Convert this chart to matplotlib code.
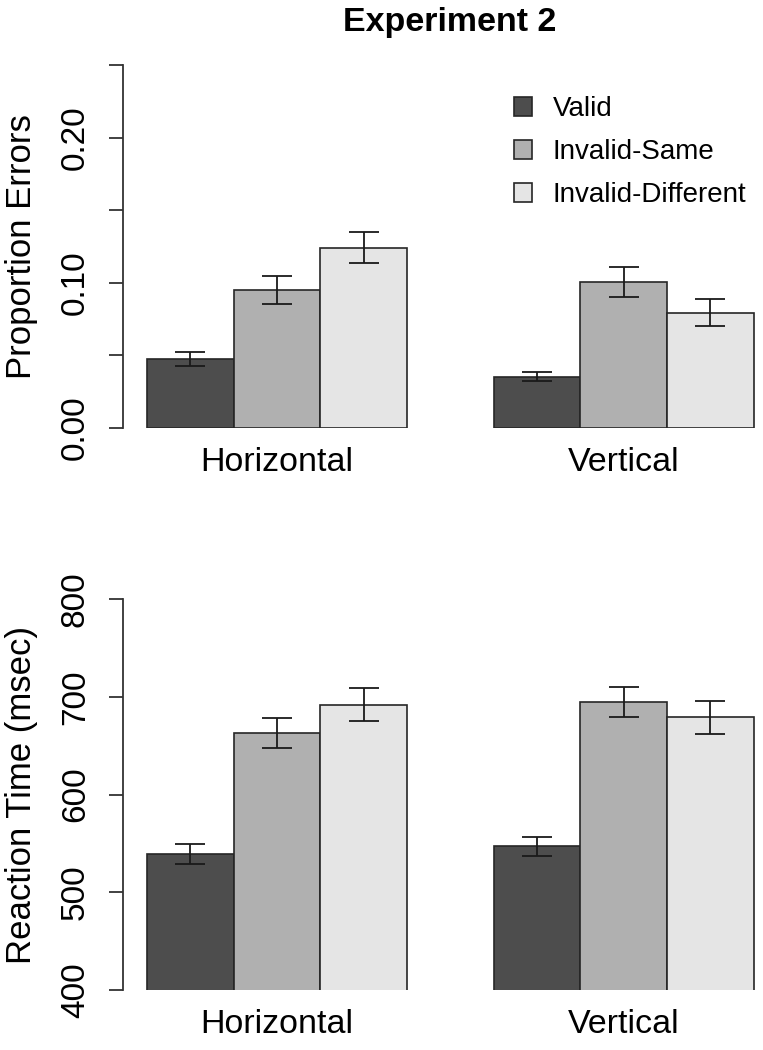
import numpy as np
import matplotlib
matplotlib.use("Agg")
import matplotlib.pyplot as plt
from matplotlib.patches import Patch

plt.rcParams['font.family'] = ['Liberation Sans', 'DejaVu Sans']

# ---------------- data ----------------
groups = ["Horizontal", "Vertical"]
conditions = ["Valid", "Invalid-Same", "Invalid-Different"]
colors = ["#4d4d4d", "#b0b0b0", "#e5e5e5"]

err_mean = [[0.0474, 0.0950, 0.1241],   # Horizontal
            [0.0352, 0.1003, 0.0793]]   # Vertical
err_se = [[0.0049, 0.0097, 0.0109],
          [0.0031, 0.0105, 0.0093]]

rt_mean = [[539, 663, 692],
           [547, 695, 679]]
rt_se = [[10, 15, 17],
         [10, 15.6, 16.4]]

W, H = 763, 1050
fig = plt.figure(figsize=(W / 100, H / 100), dpi=100)

# R-style barplot coords: bars of width 1, groups separated by 1
x_left = 0.72
x_right = x_left + (W - 122.7) / 86.67


def panel(rect, means, ses, ylim, yticks, ylabels, ylabel):
    ax = fig.add_axes(rect)
    for g in range(len(groups)):
        for c in range(len(conditions)):
            xc = 1.5 + g * 4 + c
            ax.bar(xc, means[g][c], width=1.0, color=colors[c],
                   edgecolor="#262626", linewidth=1.2, zorder=2)
            ax.errorbar(xc, means[g][c], yerr=ses[g][c], fmt="none",
                        ecolor="#1a1a1a", elinewidth=1.3, capsize=10.5,
                        capthick=1.3, zorder=3)
    ax.set_xlim(x_left, x_right)
    ax.set_ylim(*ylim)
    for s in ["top", "right", "bottom"]:
        ax.spines[s].set_visible(False)
    ax.spines["left"].set_color("#333333")
    ax.spines["left"].set_linewidth(1.3)
    ax.set_yticks(yticks)
    ax.set_yticklabels(ylabels, rotation=90, va="center")
    ax.tick_params(axis="y", length=10, width=1.3, color="#333333",
                   labelsize=24, pad=13)
    ax.set_xticks([2.5, 6.5])
    ax.set_xticklabels(groups)
    ax.tick_params(axis="x", length=0, labelsize=24.5, pad=14)
    ax.set_ylabel(ylabel, fontsize=25, labelpad=16)
    return ax


ax1 = panel([122.7 / W, 622.3 / H, (W - 122.7) / W, 362.7 / H],
            err_mean, err_se, (0, 0.25),
            [0, 0.05, 0.10, 0.15, 0.20, 0.25],
            ["0.00", "", "0.10", "", "0.20", ""],
            "Proportion Errors")

ax2 = panel([122.7 / W, 60 / H, (W - 122.7) / W, 390.7 / H],
            rt_mean, rt_se, (400, 800),
            [400, 500, 600, 700, 800],
            ["400", "500", "600", "700", "800"],
            "Reaction Time (msec)")

handles = [Patch(facecolor=colors[i], edgecolor="#262626", linewidth=1.2)
           for i in range(3)]
fig.legend(handles, conditions, loc="upper left",
           bbox_to_anchor=(514 / W, 1 - 96 / H), frameon=False,
           fontsize=20, handlelength=0.65, handleheight=0.65,
           handletextpad=0.75, labelspacing=0.62, borderpad=0,
           borderaxespad=0)

fig.text(450 / W, 1 - 23 / H, "Experiment 2", ha="center", va="center",
         fontsize=24.5, fontweight="bold")

fig.savefig("out.png", dpi=100)
